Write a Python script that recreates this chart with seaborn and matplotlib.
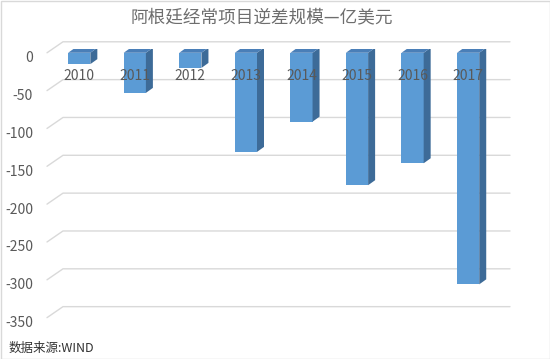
import numpy as np
import pandas as pd
import seaborn as sns
import matplotlib.pyplot as plt
import matplotlib.transforms as mtransforms
from matplotlib.patches import Polygon, Rectangle

years = ['2010', '2011', '2012', '2013', '2014', '2015', '2016', '2017']
deficit = [-15, -53, -20, -131, -91, -175, -146, -306]
yticks = [0, -50, -100, -150, -200, -250, -300, -350]
title = '阿根廷经常项目逆差规模—亿美元'
source = '数据来源:WIND'

sns.set_style('white')
plt.rcParams['font.family'] = ['Noto Sans CJK SC', 'DejaVu Sans']

W, H = 550, 359
fig = plt.figure(figsize=(W / 100, H / 100), dpi=100)
# axes placed in pixels: front plane
ax_l, ax_r, ax_t, ax_b = 47, 492, 49, 329
ax = fig.add_axes([ax_l / W, (H - ax_b) / H, (ax_r - ax_l) / W, (ax_b - ax_t) / H])

df = pd.DataFrame({'year': years, 'value': deficit})
sns.barplot(data=df, x='year', y='value', color='#5B9BD5', saturation=1,
            width=0.4, linewidth=0, ax=ax, zorder=3)

ax.set_xlim(-0.58, 7.43)
ax.set_ylim(-365, 5)

# pixel -> data conversions for the fake 3D look
px_x = (7.43 + 0.58) / (ax_r - ax_l)
px_y = (5 + 365) / (ax_b - ax_t)

# back wall gridlines with a diagonal floor edge on the left
gdx, gdy = 16 * px_x, 11 * px_y
x_end = 7.43 + 18 * px_x
for v in yticks:
    ax.plot([-0.58, -0.58 + gdx, x_end], [v, v + gdy, v + gdy],
            color='#D9D9D9', lw=1, zorder=1, clip_on=False)

# side and top faces of bars
bdx, bdy = 7 * px_x, 5 * px_y
for p in ax.patches[:len(deficit)]:
    x0 = p.get_x()
    x1 = x0 + p.get_width()
    ya = p.get_y()
    yb = ya + p.get_height()
    top, bot = max(ya, yb), min(ya, yb)
    side = Polygon([[x1, top], [x1, bot], [x1 + bdx, bot + bdy], [x1 + bdx, top + bdy]],
                   closed=True, facecolor='#3D6B98', edgecolor='none', zorder=3)
    cap = Polygon([[x0, top], [x1, top], [x1 + bdx, top + bdy], [x0 + bdx, top + bdy]],
                  closed=True, facecolor='#4A7FB8', edgecolor='none', zorder=3)
    ax.add_patch(side)
    ax.add_patch(cap)

ax.set_yticks(yticks)
ax.set_yticklabels([str(t) for t in yticks], fontsize=10, color='#595959')
ax.tick_params(axis='y', length=0, pad=10)
down = mtransforms.ScaledTranslation(0, -4 / 100, fig.dpi_scale_trans)
for lab in ax.get_yticklabels():
    lab.set_transform(lab.get_transform() + down)
ax.spines['bottom'].set_position(('data', 0))
ax.tick_params(axis='x', length=0, pad=12, labelsize=10, labelcolor='#595959')
ax.xaxis.set_zorder(5)
ax.set_xlabel('')
ax.set_ylabel('')
sns.despine(ax=ax, left=True, bottom=True)
ax.patch.set_alpha(0)

fig.text(262 / W, 1 - 17 / H, title, ha='center', va='center', fontsize=12.7, color='#6E6E6E')
fig.text(9 / W, 1 - 348 / H, source, ha='left', va='center', fontsize=9, color='#333333')
fig.patches.append(Rectangle((0.5 / W, 0.5 / H), 1 - 1 / W, 1 - 1 / H, transform=fig.transFigure,
                             fill=False, edgecolor='#D9D9D9', lw=1))

fig.savefig('out.png', dpi=100)
